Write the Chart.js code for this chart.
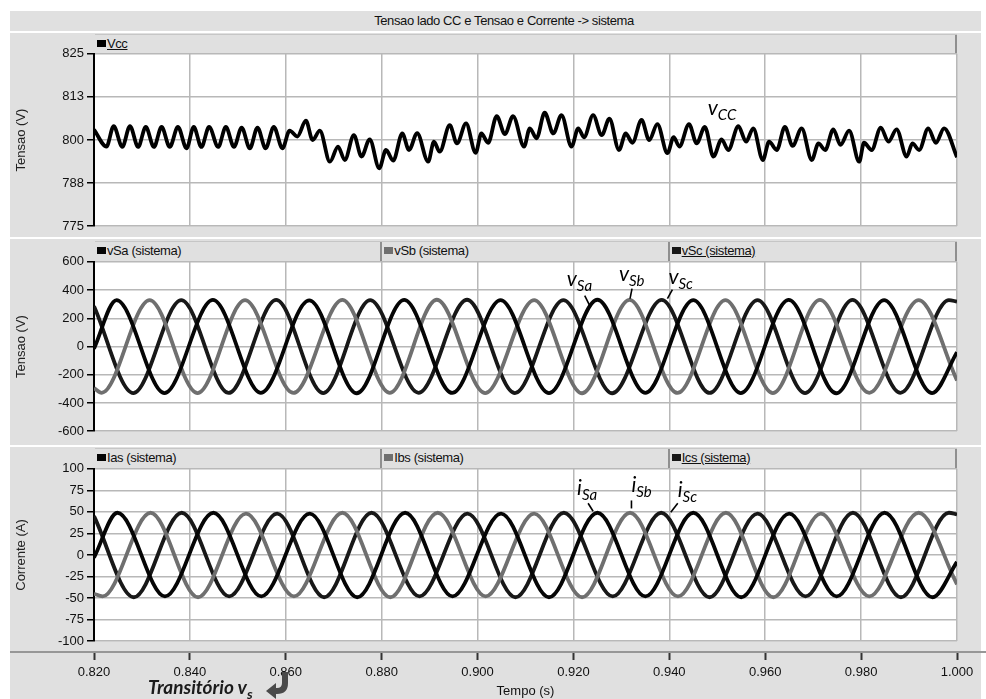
<!DOCTYPE html>
<html lang="pt-BR">
<head>
<meta charset="utf-8">
<title>Tensao lado CC e Tensao e Corrente -> sistema</title>
<script src="https://cdn.jsdelivr.net/npm/chart.js@4.4.1/dist/chart.umd.min.js"></script>
<style>
  html, body { margin: 0; padding: 0; background: #fff; }
  body { position: relative; width: 986px; height: 699px; overflow: hidden;
         font-family: "Liberation Sans", Arial, sans-serif; color: #111; }
  #moldura { position: absolute; left: 10px; top: 11px; width: 971px; height: 688px; background: #e0e0e0; }
  #titulo { position: absolute; left: 10px; top: 11px; width: 971px; height: 20px; line-height: 20px;
            text-align: center; font-size: 13px; letter-spacing: -0.4px; padding-left: 17px; box-sizing: border-box; }
  .sep { position: absolute; left: 10px; width: 971px; height: 2px; background: #fff; }
  #linhaEixo { position: absolute; left: 10px; top: 651px; width: 976px; height: 2px; background: #979797; }
  canvas { position: absolute; left: 0; }
  .legenda { position: absolute; left: 95px; width: 862px; display: flex; background: #e0e0e0;
             border-top: 1px solid #c6c6c6; box-sizing: border-box; }
  .legenda > div { flex: 1; border-right: 2px solid #8f8f8f; font-size: 13px; letter-spacing: -0.4px;
                   line-height: 18px; white-space: nowrap; padding-left: 2px; }
  .legenda i { display: inline-block; width: 9px; height: 7px; margin-right: 1px; vertical-align: 1px; }
  #transitorio { position: absolute; left: 148px; top: 677px; font: italic bold 19px Lato, sans-serif;
                 line-height: 20px; color: #1b1b1b; white-space: nowrap; }
  #transitorio sub { font-size: 14px; vertical-align: -5px; }
  #seta { position: absolute; left: 262px; top: 668px; }
</style>
</head>
<body>
<div id="moldura"></div>
<div id="titulo">Tensao lado CC e Tensao e Corrente -&gt; sistema</div>
<div class="sep" style="top:31px"></div>
<div class="sep" style="top:237px"></div>
<div class="sep" style="top:445px"></div>
<canvas id="gVcc" width="986" height="194" style="top:43px"></canvas>
<canvas id="gTensao" width="986" height="191" style="top:251px"></canvas>
<canvas id="gCorrente" width="986" height="194" style="top:458px"></canvas>
<canvas id="gTempo" width="986" height="59" style="top:640px"></canvas>
<div class="legenda" id="legVcc" style="top:34px;height:19px"></div>
<div class="legenda" id="legTensao" style="top:241px;height:20px"></div>
<div class="legenda" id="legCorrente" style="top:448px;height:20px"></div>
<div id="linhaEixo"></div>
<div id="transitorio">Transitório v<sub>s</sub></div>
<svg id="seta" width="30" height="31" viewBox="0 0 30 31">
  <path d="M23 4 L23 15 Q23 23 15 23 L13 23" stroke="#4a4a4a" stroke-width="6" fill="none"/>
  <polygon points="14,15 14,31 4,23" fill="#4a4a4a"/>
</svg>
<script>
// eixos
const tempoTicks = [0.82, 0.84, 0.86, 0.88, 0.90, 0.92, 0.94, 0.96, 0.98, 1.00];
const vccTicks = [775, 787.5, 800, 812.5, 825];
const tensaoTicks = [-600, -400, -200, 0, 200, 400, 600];
const correnteTicks = [-100, -75, -50, -25, 0, 25, 50, 75, 100];

// nomes das series
const nomeVcc = ["Vcc"];
const nomesTensao = ["vSa (sistema)", "vSb (sistema)", "vSc (sistema)"];
const nomesCorrente = ["Ias (sistema)", "Ibs (sistema)", "Ics (sistema)"];

// Vcc: picos e vales [t (s), V]
const vcc = [
  [0.8200, 803.0], [0.8226, 798.1], [0.8241, 804.0], [0.8259, 798.0], [0.8275, 804.0],
  [0.8292, 798.0], [0.8308, 803.8], [0.8325, 798.0], [0.8341, 803.8], [0.8358, 798.0],
  [0.8375, 803.8], [0.8393, 797.6], [0.8408, 803.8], [0.8424, 798.0], [0.8440, 803.8],
  [0.8459, 798.0], [0.8475, 803.8], [0.8492, 798.0], [0.8508, 803.6], [0.8525, 797.6],
  [0.8541, 803.6], [0.8558, 797.6], [0.8575, 803.8], [0.8593, 797.6], [0.8608, 802.7],
  [0.8624, 801.0], [0.8642, 805.6], [0.8656, 800.0], [0.8671, 802.7], [0.8692, 793.7],
  [0.8709, 798.1], [0.8723, 794.2], [0.8742, 801.4], [0.8758, 795.2], [0.8775, 800.2],
  [0.8795, 791.8], [0.8809, 797.1], [0.8824, 794.0], [0.8843, 801.9], [0.8857, 797.1],
  [0.8874, 802.0], [0.8897, 793.7], [0.8909, 799.5], [0.8921, 796.6], [0.8942, 804.3],
  [0.8957, 799.0], [0.8976, 804.8], [0.8996, 796.3], [0.9008, 801.9], [0.9022, 799.2],
  [0.9040, 806.9], [0.9057, 801.7], [0.9074, 806.9], [0.9097, 798.1], [0.9109, 803.4],
  [0.9123, 800.5], [0.9140, 807.9], [0.9158, 801.9], [0.9175, 807.2], [0.9196, 798.1],
  [0.9210, 803.4], [0.9222, 800.8], [0.9241, 807.2], [0.9259, 801.4], [0.9275, 806.2],
  [0.9295, 797.1], [0.9309, 801.9], [0.9323, 799.2], [0.9342, 805.8], [0.9358, 800.0],
  [0.9375, 804.6], [0.9396, 796.2], [0.9409, 800.8], [0.9421, 798.1], [0.9441, 804.6],
  [0.9457, 799.0], [0.9474, 803.8], [0.9492, 795.2], [0.9509, 800.2], [0.9523, 797.1],
  [0.9544, 804.0], [0.9560, 799.5], [0.9575, 803.4], [0.9595, 794.2], [0.9608, 799.5],
  [0.9624, 797.1], [0.9641, 803.8], [0.9657, 798.3], [0.9676, 803.4], [0.9697, 794.2],
  [0.9711, 799.0], [0.9725, 797.1], [0.9742, 803.1], [0.9757, 798.6], [0.9775, 802.7],
  [0.9796, 793.7], [0.9806, 799.2], [0.9822, 797.1], [0.9841, 803.6], [0.9857, 799.5],
  [0.9874, 803.1], [0.9895, 795.2], [0.9907, 799.0], [0.9921, 797.1], [0.9940, 803.4],
  [0.9956, 799.2], [0.9973, 803.4], [1.0000, 795.0]
];

// tensoes de fase: extremos lidos [t (s), V]
const vSa = [
  [0.8200, -15], [0.8247, 328], [0.8347, -330], [0.8448, 330], [0.8548, -328],
  [0.8649, 327], [0.8748, -331], [0.8847, 330], [0.8947, -329], [0.9048, 329],
  [0.9149, -330], [0.9250, 331], [0.9350, -328], [0.9450, 328], [0.9549, -330],
  [0.9649, 330], [0.9748, -331], [0.9848, 329], [0.9948, -330], [1.0000, -40]
];
const vSb = [
  [0.8200, -295], [0.8216, -328], [0.8316, 329], [0.8416, -330], [0.8515, 328],
  [0.8616, -329], [0.8718, 330], [0.8817, -328], [0.8915, 331], [0.9016, -330],
  [0.9118, 329], [0.9218, -331], [0.9317, 330], [0.9417, -329], [0.9517, 328],
  [0.9616, -330], [0.9714, 330], [0.9817, -328], [0.9920, 329], [1.0000, -240]
];
const vSc = [
  [0.8200, 285], [0.8282, -330], [0.8382, 328], [0.8481, -329], [0.8580, 330],
  [0.8678, -330], [0.8776, 329], [0.8877, -328], [0.8978, 331], [0.9078, -330],
  [0.9179, 328], [0.9281, -331], [0.9384, 330], [0.9484, -329], [0.9584, 329],
  [0.9683, -330], [0.9782, 330], [0.9882, -328], [0.9983, 329], [1.0000, 318]
];

// correntes de fase: extremos lidos [t (s), A]
const iSa = [
  [0.8200, -3], [0.8249, 49], [0.8348, -48], [0.8449, 49], [0.8549, -48],
  [0.8650, 48], [0.8749, -49], [0.8849, 49], [0.8948, -48], [0.9049, 48],
  [0.9149, -49], [0.9250, 49], [0.9350, -48], [0.9450, 49], [0.9550, -49],
  [0.9650, 48], [0.9749, -48], [0.9849, 49], [0.9949, -49], [1.0000, -8]
];
const iSb = [
  [0.8200, -45], [0.8218, -48], [0.8318, 49], [0.8417, -49], [0.8517, 48],
  [0.8617, -48], [0.8718, 49], [0.8818, -49], [0.8917, 49], [0.9017, -48],
  [0.9118, 48], [0.9218, -49], [0.9318, 49], [0.9418, -48], [0.9518, 49],
  [0.9617, -49], [0.9716, 48], [0.9817, -48], [0.9920, 49], [1.0000, -34]
];
const iSc = [
  [0.8200, 45], [0.8283, -49], [0.8383, 49], [0.8482, -48], [0.8582, 48],
  [0.8680, -49], [0.8779, 49], [0.8879, -48], [0.8979, 48], [0.9079, -49],
  [0.9180, 49], [0.9282, -48], [0.9383, 49], [0.9484, -49], [0.9584, 48],
  [0.9684, -48], [0.9783, 49], [0.9883, -49], [0.9983, 49], [1.0000, 47]
];

const coresFases = ["#050505", "#6f6f6f", "#181818"];
const corGrade = "#b8b8b8";

Chart.defaults.font.family = '"Liberation Sans", Arial, sans-serif';
Chart.defaults.font.size = 13;
Chart.defaults.color = "#111";

// fundo branco so na area do grafico
const fundoBranco = {
  id: "fundoBranco",
  beforeDraw(chart) {
    const { ctx, chartArea: a } = chart;
    ctx.save();
    ctx.fillStyle = "#fff";
    ctx.fillRect(a.left, a.top, a.right - a.left, a.bottom - a.top);
    ctx.restore();
  }
};

// rotulos v_Sa, i_Sa... ancorados nos valores do grafico
function rotulos(lista) {
  return {
    id: "rotulos",
    afterDatasetsDraw(chart) {
      const ctx = chart.ctx, sx = chart.scales.x, sy = chart.scales.y;
      ctx.save();
      lista.forEach(r => {
        const px = sx.getPixelForValue(r.t), py = sy.getPixelForValue(r.v);
        if (r.linha) {
          ctx.strokeStyle = "#000";
          ctx.lineWidth = 1.6;
          ctx.beginPath();
          ctx.moveTo(px + r.linha[0], py + r.linha[1]);
          ctx.lineTo(px, py);
          ctx.stroke();
        }
        const x = px + (r.dx || 0), y = py + (r.dy || 0);
        ctx.fillStyle = "#000";
        ctx.textBaseline = "alphabetic";
        ctx.font = "italic 21px Lato, sans-serif";
        ctx.fillText(r.letra, x, y);
        const w = ctx.measureText(r.letra).width;
        ctx.font = "italic 15px Lato, sans-serif";
        ctx.fillText(r.indice, x + w, y + 5);
      });
      ctx.restore();
    }
  };
}

function eixoTempo() {
  return {
    type: "linear", min: 0.82, max: 1.0,
    afterBuildTicks: s => { s.ticks = tempoTicks.map(value => ({ value })); },
    ticks: { display: false },
    grid: { color: corGrade, lineWidth: 1.5, drawTicks: false },
    border: { display: false },
    afterFit: s => { s.height = 0; }
  };
}

function eixoValor(ticks, titulo, formato) {
  return {
    min: ticks[0], max: ticks[ticks.length - 1],
    afterBuildTicks: s => { s.ticks = ticks.map(value => ({ value })); },
    ticks: { color: "#111", padding: 3, callback: formato || (v => v) },
    grid: { color: corGrade, lineWidth: 1.5, tickLength: 7, tickColor: "#000", tickWidth: 1.5 },
    border: { color: "#000", width: 2 },
    title: { display: true, text: titulo, color: "#222", padding: { top: 14, bottom: 0 } },
    afterFit: s => { s.width = 94; }
  };
}

function serie(nome, dados, cor) {
  return {
    label: nome, data: dados, borderColor: cor, borderWidth: 3.8,
    pointRadius: 0, cubicInterpolationMode: "monotone", fill: false, clip: 0
  };
}

function painel(id, series, eixoY, notas) {
  new Chart(document.getElementById(id), {
    type: "line",
    data: { datasets: series },
    options: {
      responsive: false, animation: false, devicePixelRatio: 1, events: [],
      layout: { padding: { top: 10, bottom: 10, left: 0, right: 29 } },
      plugins: { legend: { display: false }, tooltip: { enabled: false } },
      scales: { x: eixoTempo(), y: eixoY }
    },
    plugins: [fundoBranco, rotulos(notas)]
  });
}

painel("gVcc", [serie(nomeVcc[0], vcc, "#000")],
  eixoValor(vccTicks, "Tensao (V)", v => Math.round(v)),
  [{ letra: "v", indice: "CC", t: 0.9480, v: 807.2 }]);

painel("gTensao", [
    serie(nomesTensao[0], vSa, coresFases[0]),
    serie(nomesTensao[1], vSb, coresFases[1]),
    serie(nomesTensao[2], vSc, coresFases[2])
  ],
  eixoValor(tensaoTicks, "Tensao (V)"),
  [
    { letra: "v", indice: "Sa", t: 0.9234, v: 290, dx: -23, dy: -20, linha: [-5, -10] },
    { letra: "v", indice: "Sb", t: 0.9318, v: 339, dx: -11, dy: -18, linha: [2, -10] },
    { letra: "v", indice: "Sc", t: 0.9396, v: 339, dx: 1, dy: -15, linha: [5, -9] }
  ]);

painel("gCorrente", [
    serie(nomesCorrente[0], iSa, coresFases[0]),
    serie(nomesCorrente[1], iSb, coresFases[1]),
    serie(nomesCorrente[2], iSc, coresFases[2])
  ],
  eixoValor(correnteTicks, "Corrente (A)"),
  [
    { letra: "i", indice: "Sa", t: 0.9241, v: 50.7, dx: -16, dy: -16, linha: [-5, -8] },
    { letra: "i", indice: "Sb", t: 0.9321, v: 54, dx: 0, dy: -16, linha: [0, -8] },
    { letra: "i", indice: "Sc", t: 0.9403, v: 49.6, dx: 7, dy: -15, linha: [7, -9] }
  ]);

// eixo do tempo, separado como no original
new Chart(document.getElementById("gTempo"), {
  type: "line",
  data: { datasets: [] },
  options: {
    responsive: false, animation: false, devicePixelRatio: 1, events: [],
    layout: { padding: { top: 5, bottom: 0, left: 94, right: 29 } },
    plugins: { legend: { display: false }, tooltip: { enabled: false } },
    scales: {
      x: {
        type: "linear", min: 0.82, max: 1.0,
        afterBuildTicks: s => { s.ticks = tempoTicks.map(value => ({ value })); },
        ticks: { color: "#111", padding: 5, maxRotation: 0, autoSkip: false, callback: v => v.toFixed(3) },
        grid: { drawOnChartArea: false, tickLength: 7, tickColor: "#333", tickWidth: 2 },
        border: { display: false },
        title: { display: true, text: "Tempo (s)", color: "#111", padding: { top: 0, bottom: 0 } },
        afterFit: s => { s.height = 46; }
      },
      y: { display: false }
    }
  }
});

// legendas
function montarLegenda(id, nomes, cores, sublinhados) {
  const el = document.getElementById(id);
  nomes.forEach((nome, i) => {
    const c = document.createElement("div");
    const q = document.createElement("i");
    q.style.background = cores[i];
    const t = document.createElement(sublinhados[i] ? "u" : "span");
    t.textContent = nome;
    c.append(q, t);
    el.appendChild(c);
  });
}
montarLegenda("legVcc", nomeVcc, ["#000"], [true]);
montarLegenda("legTensao", nomesTensao, coresFases, [false, false, true]);
montarLegenda("legCorrente", nomesCorrente, coresFases, [false, false, true]);
</script>
</body>
</html>
